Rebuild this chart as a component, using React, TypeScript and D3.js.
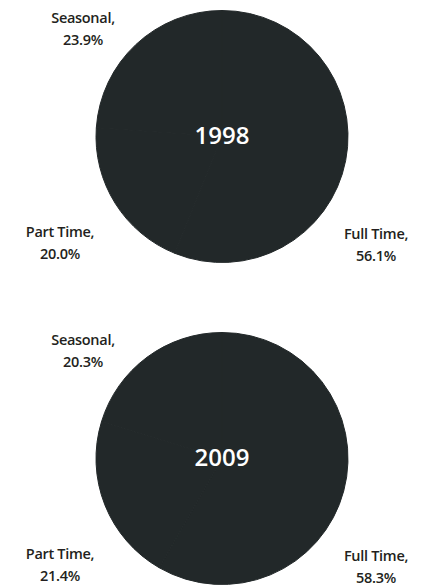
import * as d3 from 'd3';
import { useEffect, useRef } from 'react';

const categories = ['Full Time', 'Part Time', 'Seasonal'];
const years = ['1998', '2009'];
const shares1998 = [56.1, 20.0, 23.9];
const shares2009 = [58.3, 21.4, 20.3];

const width = 422;
const height = 587;
const radius = 126;
const pieColor = '#222829';
const textColor = '#231f20';
const font = "'Open Sans', 'DejaVu Sans', sans-serif";

// label anchor offsets from each pie centre (layout only)
const labelOffsets: Record<string, [number, number]> = {
  'Full Time': [154, 102],
  'Part Time': [-162, 100],
  Seasonal: [-139, -114],
};

function App() {
  const svgElement = useRef<SVGSVGElement | null>(null);

  useEffect(() => {
    if (!svgElement.current) return;
    const svg = d3.select(svgElement.current);
    svg.selectAll('*').remove();

    const y = d3.scalePoint<string>().domain(years).range([136.5, 458.5]);
    const cx = 222;

    const pie = d3.pie<number>().value((d) => d).sort(null);
    const arc = d3.arc<d3.PieArcDatum<number>>().innerRadius(0).outerRadius(radius);

    [shares1998, shares2009].forEach((shares, i) => {
      const year = years[i];
      const g = svg.append('g').attr('transform', `translate(${cx},${y(year)})`);

      // slices share one colour, stroke hides the anti-aliasing seams
      g.selectAll('path')
        .data(pie(shares))
        .join('path')
        .attr('d', (d) => arc(d) as string)
        .attr('fill', pieColor)
        .attr('stroke', pieColor)
        .attr('stroke-width', 1)
        .attr('stroke-linejoin', 'round');

      g.append('text')
        .attr('text-anchor', 'middle')
        .attr('dy', '0.3em')
        .attr('fill', '#fff')
        .style('font-family', font)
        .style('font-weight', 600)
        .style('font-size', '24px')
        .text(year);

      categories.forEach((cat, j) => {
        const [dx, dy] = labelOffsets[cat];
        const t = g
          .append('text')
          .attr('text-anchor', 'middle')
          .attr('fill', textColor)
          .style('font-family', font)
          .style('font-weight', 600)
          .style('font-size', '14.5px')
          .style('letter-spacing', '-0.3px');
        t.append('tspan').attr('x', dx).attr('y', dy).text(`${cat},`);
        t.append('tspan')
          .attr('x', dx)
          .attr('y', dy + 22)
          .text(`${shares[j].toFixed(1)}%`);
      });
    });
  }, []);

  return (
    <div style={{ position: 'absolute', left: 0, top: 0, background: '#fff' }}>
      <svg ref={svgElement} width={width} height={height} />
    </div>
  );
}

export default App;
